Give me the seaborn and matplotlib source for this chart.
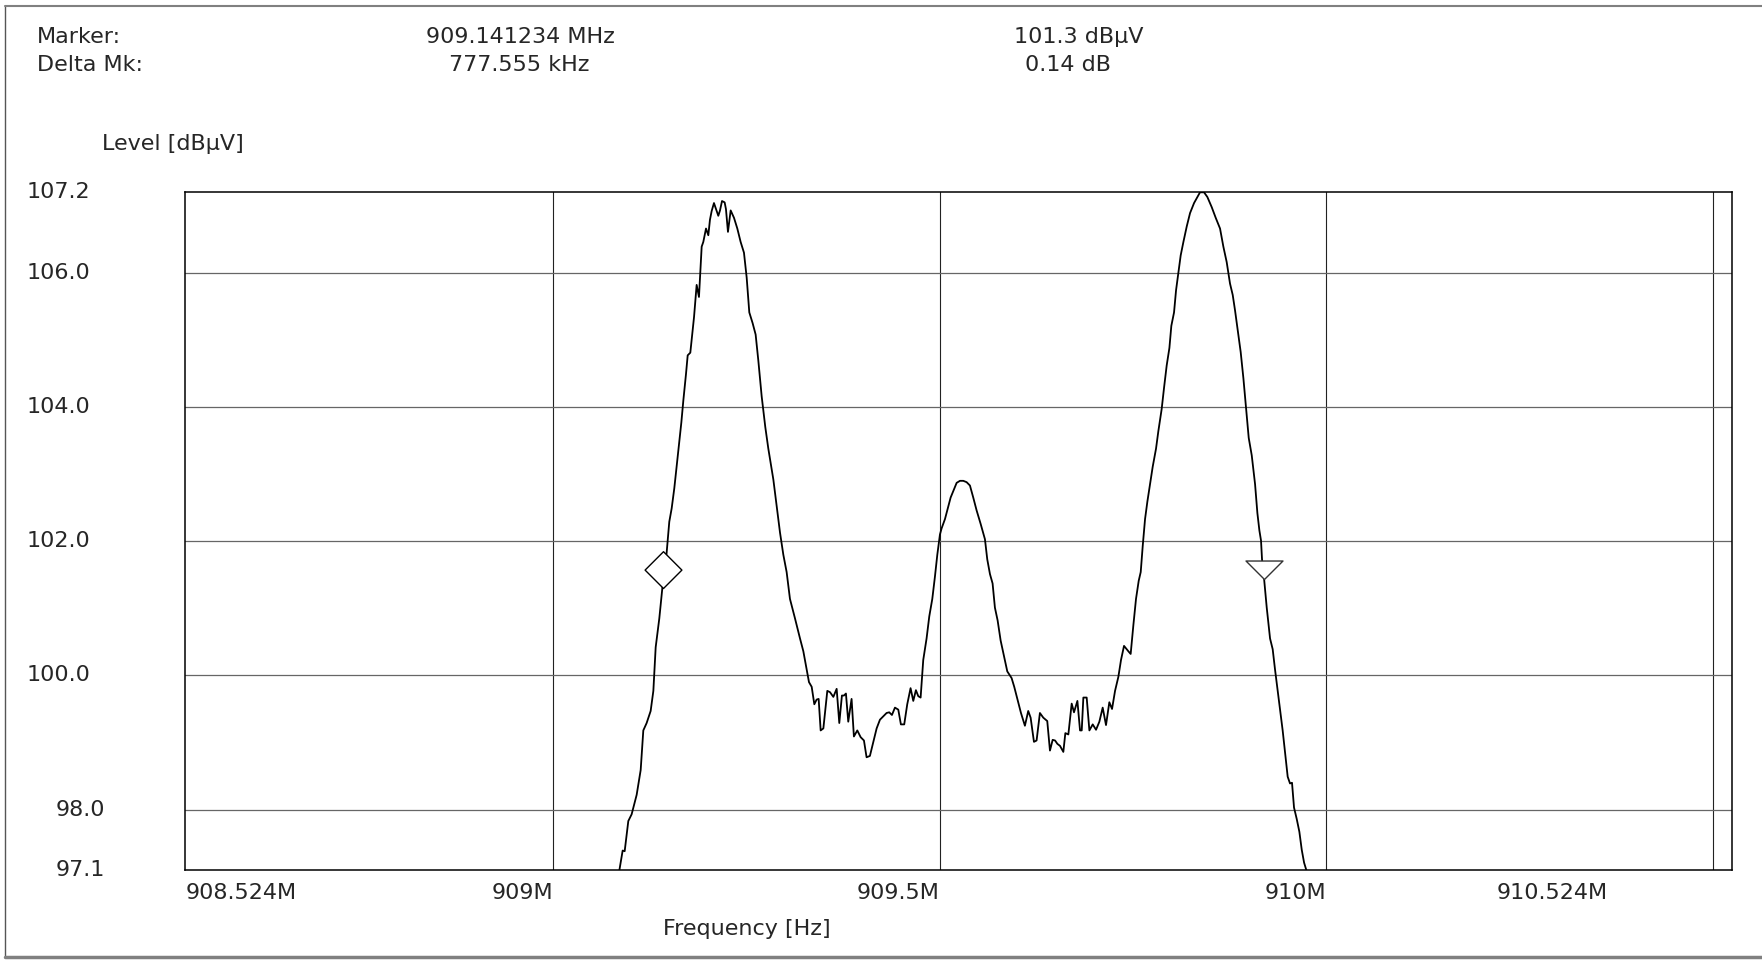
import numpy as np
import pandas as pd
import seaborn as sns
import matplotlib.pyplot as plt
from matplotlib.path import Path
from matplotlib import transforms
from matplotlib.lines import Line2D

# trace (MHz, dBuV)
freq_mhz = [
    909.0825, 909.0896, 909.0922, 909.0969, 909.1012, 909.1077, 909.1129, 909.1163, 909.1206, 909.1258,
    909.1293, 909.1323, 909.1370, 909.1409, 909.1465, 909.1499, 909.1530, 909.1564, 909.1594, 909.1625,
    909.1655, 909.1681, 909.1715, 909.1737, 909.1771, 909.1801, 909.1819, 909.1853, 909.1883, 909.1918,
    909.1939, 909.1974, 909.2004, 909.2025, 909.2047, 909.2077, 909.2103, 909.2133, 909.2155, 909.2181,
    909.2215, 909.2232, 909.2258, 909.2293, 909.2336, 909.2379, 909.2422, 909.2465, 909.2500, 909.2534,
    909.2577, 909.2616, 909.2651, 909.2694, 909.2741, 909.2780, 909.2845, 909.2888, 909.2931, 909.2974,
    909.3017, 909.3060, 909.3125, 909.3190, 909.3233, 909.3276, 909.3306, 909.3341, 909.3375, 909.3405,
    909.3431, 909.3457, 909.3492, 909.3543, 909.3578, 909.3621, 909.3664,
    909.3698, 909.3732, 909.3758, 909.3784, 909.3814, 909.3857, 909.3887, 909.3931, 909.3974, 909.4017,
    909.4051, 909.4094, 909.4138, 909.4181, 909.4224, 909.4267, 909.4310, 909.4344, 909.4379, 909.4418,
    909.4461, 909.4495, 909.4538, 909.4577, 909.4620, 909.4655, 909.4689, 909.4720, 909.4750, 909.4784,
    909.4827, 909.4862, 909.4901, 909.4935, 909.4966, 909.5000, 909.5021, 909.5065, 909.5095, 909.5138,
    909.5181, 909.5216, 909.5259, 909.5302, 909.5345, 909.5388, 909.5431, 909.5474, 909.5526, 909.5582,
    909.5612, 909.5647, 909.5681, 909.5711, 909.5746, 909.5785, 909.5828, 909.5871, 909.5927, 909.5961,
    909.6004, 909.6048, 909.6099, 909.6142, 909.6173, 909.6216, 909.6250, 909.6293, 909.6337, 909.6388,
    909.6423,
    909.6458, 909.6489, 909.6519, 909.6553, 909.6596, 909.6622, 909.6661, 909.6704, 909.6734, 909.6778,
    909.6812, 909.6834, 909.6855, 909.6898, 909.6933, 909.6976, 909.7019, 909.7062, 909.7105, 909.7148,
    909.7191, 909.7226, 909.7265, 909.7308, 909.7342, 909.7381, 909.7437, 909.7467, 909.7502, 909.7536,
    909.7571, 909.7597, 909.7623, 909.7653, 909.7683, 909.7717, 909.7752, 909.7795, 909.7825, 909.7868,
    909.7899, 909.7933, 909.7968, 909.7993, 909.8028, 909.8054, 909.8084, 909.8114, 909.8149, 909.8192,
    909.8235, 909.8287, 909.8330, 909.8364, 909.8416, 909.8459, 909.8515, 909.8567, 909.8623, 909.8666,
    909.8709, 909.8752, 909.8787, 909.8817, 909.8851, 909.8890, 909.8925, 909.8959, 909.8994, 909.9033,
    909.9076, 909.9106, 909.9132, 909.9153, 909.9166, 909.9192, 909.9227, 909.9270, 909.9304, 909.9334,
    909.9369, 909.9399, 909.9433, 909.9464, 909.9498, 909.9528, 909.9554, 909.9580, 909.9615, 909.9649,
    909.9680, 909.9710, 909.9744, 909.9760,
]
level_dbuv = [
    96.90, 97.39, 97.38, 97.83, 97.93, 98.22, 98.59, 99.18, 99.29, 99.47,
    99.77, 100.42, 100.85, 101.30, 101.83, 102.29, 102.49, 102.79, 103.11, 103.44,
    103.77, 104.10, 104.49, 104.77, 104.81, 105.15, 105.34, 105.82, 105.64, 106.39,
    106.46, 106.66, 106.56, 106.79, 106.92, 107.04, 106.95, 106.85, 106.93, 107.07,
    107.05, 106.95, 106.61, 106.93, 106.82, 106.66, 106.46, 106.30, 105.93, 105.41,
    105.25, 105.08, 104.69, 104.16, 103.70, 103.38, 102.92, 102.52, 102.13, 101.80,
    101.54, 101.14, 100.85, 100.55, 100.36, 100.09, 99.90, 99.83, 99.57, 99.64,
    99.65, 99.18, 99.21, 99.77, 99.75, 99.68, 99.80,
    99.29, 99.70, 99.70, 99.73, 99.31, 99.65, 99.09, 99.18, 99.08, 99.03,
    98.78, 98.80, 99.01, 99.21, 99.34, 99.39, 99.44, 99.45, 99.41, 99.52,
    99.49, 99.27, 99.27, 99.57, 99.81, 99.62, 99.78, 99.69, 99.67, 100.23,
    100.55, 100.88, 101.14, 101.47, 101.80, 102.10, 102.19, 102.33, 102.46, 102.65,
    102.77, 102.87, 102.90, 102.90, 102.88, 102.83, 102.65, 102.46, 102.26, 102.03,
    101.73, 101.51, 101.37, 101.01, 100.82, 100.52, 100.29, 100.06, 99.96, 99.83,
    99.64, 99.44, 99.25, 99.47, 99.37, 99.01, 99.03, 99.44, 99.37, 99.32,
    98.88,
    99.04, 99.03, 98.98, 98.95, 98.86, 99.14, 99.12, 99.58, 99.45, 99.62,
    99.18, 99.18, 99.67, 99.67, 99.18, 99.27, 99.19, 99.31, 99.52, 99.26,
    99.60, 99.50, 99.77, 99.98, 100.23, 100.44, 100.36, 100.32, 100.75, 101.14,
    101.41, 101.54, 101.93, 102.33, 102.59, 102.85, 103.11, 103.38, 103.64, 103.97,
    104.29, 104.62, 104.88, 105.21, 105.41, 105.74, 106.00, 106.26, 106.46, 106.69,
    106.89, 107.04, 107.13, 107.20, 107.20, 107.13, 106.98, 106.82, 106.66, 106.39,
    106.16, 105.84, 105.67, 105.44, 105.15, 104.82, 104.43, 104.00, 103.54, 103.28,
    102.85, 102.42, 102.16, 102.01, 101.73, 101.45, 101.01, 100.55, 100.39, 100.09,
    99.77, 99.50, 99.18, 98.85, 98.49, 98.39, 98.40, 98.03, 97.86, 97.67,
    97.40, 97.21, 97.08, 96.95,
]

marker_freq = [909.141234]
marker_level = [101.3]
delta_freq = [909.141234 + 0.777555]
delta_level = [101.3 + 0.14]

ytick_vals = [107.2, 106.0, 104.0, 102.0, 100.0, 98.0, 97.1]
ytick_text = ['107.2', '106.0', '104.0', '102.0', '100.0', '98.0', '97.1']
hgrid_vals = [106.0, 104.0, 102.0, 100.0, 98.0]
vgrid_vals = [909.0, 909.5, 910.0, 910.5]
xtick_vals = [908.524, 909.0, 909.5, 910.0, 910.364]
xtick_text = ['908.524M', '909M', '909.5M', '910M', '910.524M']
xtick_ha = ['left', 'right', 'right', 'right', 'right']

W, H = 1762, 961
sns.set_style('white')
plt.rcParams['font.family'] = ['DejaVu Sans']
fs = 16

fig = plt.figure(figsize=(W / 100, H / 100), dpi=100)
ax = fig.add_axes([185.4 / W, 1 - 870 / H, 1546.2 / W, 677.7 / H])

df = pd.DataFrame({'freq': freq_mhz, 'level': level_dbuv})
sns.lineplot(data=df, x='freq', y='level', sort=False, estimator=None,
             color='black', lw=1.3, ax=ax, zorder=3)

ax.set_xlim(908.524, 910.524)
ax.set_ylim(97.1, 107.2)
ax.set_xticks(vgrid_vals)
ax.set_yticks(hgrid_vals)
ax.set_xticklabels([])
ax.set_yticklabels([])
ax.tick_params(length=0)
ax.xaxis.grid(True, color='#222222', lw=0.8)
ax.yaxis.grid(True, color='#666666', lw=0.9)
ax.set_xlabel('')
ax.set_ylabel('')
for s in ax.spines.values():
    s.set_color('black')
    s.set_linewidth(1.1)

# markers: tip sits on the trace point
diamond = Path([(0, 0), (1, 1), (0, 2), (-1, 1), (0, 0)], closed=True)
tri = Path([(0, 0), (-1, 1), (1, 1), (0, 0)], closed=True)
ax.plot(marker_freq, marker_level, ls='none', marker=diamond, ms=53,
        mfc='white', mec='black', mew=1.0, zorder=5, clip_on=False)
ax.plot(delta_freq, delta_level, ls='none', marker=tri, ms=26.6,
        mfc='white', mec='#333333', mew=1.0, zorder=5, clip_on=False)

# axis labels placed like the analyser printout
ylab_tr = transforms.blended_transform_factory(fig.transFigure, ax.transData)
for v, t in zip(ytick_vals, ytick_text):
    x0 = 27 / W if len(t) == 5 else 56 / W
    fig.text(x0, v, t, transform=ylab_tr, ha='left', va='center', fontsize=fs)

xlab_tr = transforms.blended_transform_factory(ax.transData, fig.transFigure)
for v, t, ha in zip(xtick_vals, xtick_text, xtick_ha):
    ax.text(v, 1 - 893 / H, t, transform=xlab_tr, ha=ha, va='center', fontsize=fs)

fig.text(244 / W, 1 - 144 / H, 'Level [dBµV]', ha='right', va='center', fontsize=fs)
fig.text(747 / W, 1 - 929 / H, 'Frequency [Hz]', ha='center', va='center', fontsize=fs)

fig.text(37 / W, 1 - 37 / H, 'Marker:', ha='left', va='center', fontsize=fs)
fig.text(37 / W, 1 - 65 / H, 'Delta Mk:', ha='left', va='center', fontsize=fs)
fig.text(520 / W, 1 - 37 / H, '909.141234 MHz', ha='center', va='center', fontsize=fs)
fig.text(519 / W, 1 - 65 / H, '777.555 kHz', ha='center', va='center', fontsize=fs)
fig.text(1079 / W, 1 - 37 / H, '101.3 dBµV', ha='center', va='center', fontsize=fs)
fig.text(1068 / W, 1 - 65 / H, '0.14 dB', ha='center', va='center', fontsize=fs)

# printout frame
fig.add_artist(Line2D([5 / W, 5 / W], [1 - 6 / H, 1 - 957 / H], color='#555555', lw=1.0))
fig.add_artist(Line2D([5 / W, 1762 / W], [1 - 6 / H, 1 - 6 / H], color='#808080', lw=1.5))
fig.add_artist(Line2D([5 / W, 1762 / W], [1 - 957 / H, 1 - 957 / H], color='#808080', lw=2.5))

fig.savefig('out.png', dpi=100, facecolor='white')
